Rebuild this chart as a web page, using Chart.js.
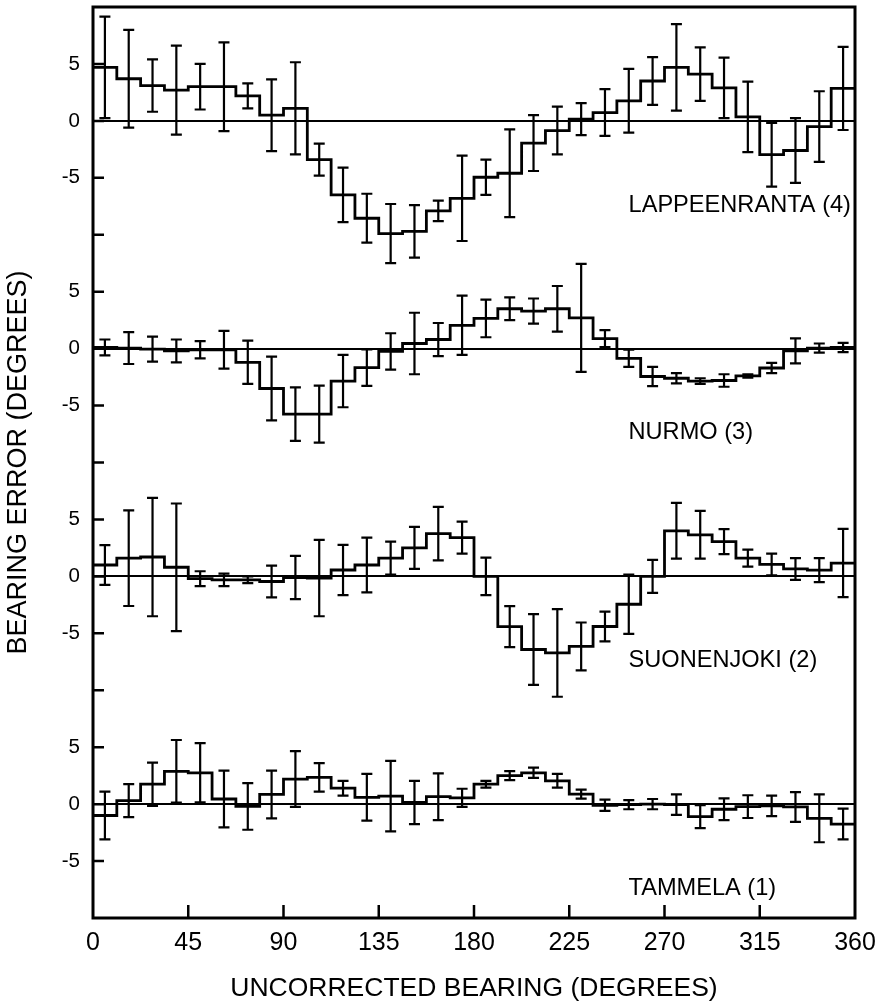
<!DOCTYPE html>
<html>
<head>
<meta charset="utf-8">
<script src="https://cdn.jsdelivr.net/npm/chart.js@4.4.1/dist/chart.umd.min.js"></script>
<style>
  body { margin: 0; background: #fff; }
</style>
</head>
<body>
<canvas id="chart" width="877" height="1006"></canvas>
<script>
'use strict';

// 32 bearing bins of 11.25 degrees
const BIN = 11.25;
const bearings = Array.from({ length: 32 }, (_, i) => (i + 0.5) * BIN);
const xTicks = [0, 45, 90, 135, 180, 225, 270, 315, 360];

// each station is drawn on the same axis, shifted by 20 degrees
const stationNames = ['LAPPEENRANTA (4)', 'NURMO (3)', 'SUONENJOKI (2)', 'TAMMELA (1)'];
const stationOffsets = [60, 40, 20, 0];

const lappValues = [4.7, 3.7, 3.1, 2.7, 3.0, 3.0, 2.2, 0.5, 1.1, -3.4, -6.5, -8.55, -9.9, -9.7, -7.9, -6.8,
  -4.95, -4.6, -1.95, -0.85, 0.15, 0.73, 1.76, 3.5, 4.7, 4.1, 2.9, 0.35, -2.97, -2.6, -0.5, 2.85];
const lappErrors = [4.45, 4.3, 2.3, 3.9, 2.0, 3.9, 1.1, 3.15, 4.05, 1.4, 2.4, 2.15, 2.6, 2.3, 0.9, 3.75,
  1.55, 3.85, 2.45, 2.1, 1.4, 2.05, 2.8, 2.1, 3.8, 2.35, 2.65, 3.1, 2.8, 2.85, 3.1, 3.65];

const nurmoValues = [0.1, 0.05, -0.05, -0.2, -0.1, -0.1, -1.2, -3.5, -5.75, -5.75, -2.85, -1.67, -0.25, 0.45, 0.8, 2.05,
  2.65, 3.5, 3.3, 3.5, 2.7, 0.88, -0.85, -2.45, -2.6, -2.85, -2.8, -2.4, -1.7, -0.2, 0.05, 0.1];
const nurmoErrors = [0.7, 1.4, 1.1, 1.0, 0.75, 1.65, 1.9, 2.8, 2.35, 2.5, 2.3, 1.6, 1.6, 2.7, 1.45, 2.6,
  1.65, 1.0, 1.1, 2.0, 4.75, 0.75, 0.75, 0.85, 0.45, 0.25, 0.55, 0.15, 0.45, 1.1, 0.4, 0.4];

const suonValues = [1.0, 1.6, 1.7, 0.8, -0.2, -0.3, -0.3, -0.45, -0.1, -0.15, 0.56, 1.0, 1.6, 2.5, 3.75, 3.4,
  0.0, -4.42, -6.42, -6.72, -6.15, -4.4, -2.45, 0.0, 4.0, 3.65, 3.05, 1.6, 1.05, 0.65, 0.55, 1.17];
const suonErrors = [1.75, 4.2, 5.2, 5.6, 0.65, 0.55, 0.3, 1.4, 1.9, 3.35, 2.2, 2.4, 1.45, 1.85, 2.35, 1.4,
  1.65, 1.8, 3.1, 3.85, 2.1, 1.3, 2.6, 1.45, 2.45, 2.1, 1.1, 0.75, 0.95, 0.95, 1.05, 3.0];

const tammValues = [-1.0, 0.3, 1.75, 2.88, 2.75, 0.45, -0.2, 0.85, 2.2, 2.35, 1.4, 0.6, 0.7, 0.15, 0.65, 0.55,
  1.75, 2.5, 2.75, 2.05, 0.88, -0.1, -0.05, 0.0, -0.05, -1.1, -0.45, -0.22, -0.15, -0.25, -1.25, -1.75];
const tammErrors = [2.1, 1.45, 1.9, 2.75, 2.6, 2.5, 2.05, 2.1, 2.45, 1.25, 0.65, 2.05, 3.1, 1.9, 2.05, 0.8,
  0.3, 0.4, 0.45, 0.6, 0.4, 0.5, 0.4, 0.45, 0.9, 1.0, 0.95, 1.0, 0.9, 1.3, 2.1, 1.35];

const stationValues = [lappValues, nurmoValues, suonValues, tammValues];
const stationErrors = [lappErrors, nurmoErrors, suonErrors, tammErrors];

const FONT = '"Liberation Sans", Arial, Helvetica, sans-serif';
Chart.defaults.font.family = FONT;
Chart.defaults.color = '#000';

// histogram style: each bin is a flat segment from its left edge to its right edge
function stepPoints(values, offset) {
  let pts = [];
  values.forEach((v, i) => {
    pts.push({ x: bearings[i] - BIN / 2, y: offset + v });
    pts.push({ x: bearings[i] + BIN / 2, y: offset + v });
  });
  return pts;
}

let datasets = stationNames.map((name, k) => ({
  label: name,
  data: stepPoints(stationValues[k], stationOffsets[k]),
  borderColor: '#000',
  borderWidth: 2.8,
  pointRadius: 0,
  tension: 0,
  fill: false
}));

// error bars, inside ticks, frame and station names
const extras = {
  id: 'extras',
  afterDatasetsDraw(chart) {
    const { ctx, chartArea: a, scales: { x, y } } = chart;
    ctx.save();
    ctx.strokeStyle = '#000';
    ctx.fillStyle = '#000';

    ctx.lineWidth = 2.2;
    stationValues.forEach((vals, k) => {
      const off = stationOffsets[k];
      const errs = stationErrors[k];
      vals.forEach((v, i) => {
        const px = x.getPixelForValue(bearings[i]);
        const top = y.getPixelForValue(off + v + errs[i]);
        const bot = y.getPixelForValue(off + v - errs[i]);
        ctx.beginPath();
        ctx.moveTo(px, top); ctx.lineTo(px, bot);
        ctx.moveTo(px - 5.5, top); ctx.lineTo(px + 5.5, top);
        ctx.moveTo(px - 5.5, bot); ctx.lineTo(px + 5.5, bot);
        ctx.stroke();
      });
    });

    ctx.lineWidth = 2.5;
    ctx.beginPath();
    y.ticks.forEach(t => {
      if (t.value <= y.min || t.value >= y.max) return;
      const py = y.getPixelForValue(t.value);
      ctx.moveTo(a.left, py); ctx.lineTo(a.left + 11, py);
    });
    x.ticks.forEach(t => {
      if (t.value <= x.min || t.value >= x.max) return;
      const px = x.getPixelForValue(t.value);
      ctx.moveTo(px, a.bottom); ctx.lineTo(px, a.bottom - 13);
    });
    ctx.stroke();

    ctx.lineWidth = 3;
    ctx.strokeRect(a.left, a.top, a.width, a.height);

    ctx.font = '23.6px ' + FONT;
    ctx.textBaseline = 'middle';
    ctx.textAlign = 'left';
    stationNames.forEach((name, k) => {
      ctx.fillText(name, x.getPixelForValue(253), y.getPixelForValue(stationOffsets[k] - 7.4));
    });
    ctx.restore();
  }
};

new Chart(document.getElementById('chart'), {
  type: 'line',
  data: { datasets: datasets },
  plugins: [extras],
  options: {
    responsive: false,
    animation: false,
    layout: { padding: { top: 7, right: 22, bottom: 0, left: 0 } },
    plugins: { legend: { display: false }, tooltip: { enabled: false } },
    scales: {
      x: {
        type: 'linear',
        min: 0,
        max: 360,
        afterBuildTicks: (scale) => { scale.ticks = xTicks.map(v => ({ value: v })); },
        ticks: { font: { size: 25 }, padding: 10, maxRotation: 0, autoSkip: false },
        grid: { display: false, drawTicks: false },
        border: { display: false },
        title: { display: true, text: 'UNCORRECTED BEARING (DEGREES)', font: { size: 26.5 }, padding: { top: 0, bottom: 1 } },
        afterFit: (scale) => { scale.height = 88; scale.paddingLeft = 0; scale.paddingRight = 0; }
      },
      y: {
        min: -10,
        max: 70,
        ticks: {
          stepSize: 5,
          autoSkip: false,
          font: { size: 20.5 },
          padding: 13,
          callback: (v) => {
            const r = ((v % 20) + 20) % 20;
            if (r === 0) return '0';
            if (r === 5) return '5';
            if (r === 15) return '-5';
            return '';
          }
        },
        grid: {
          drawTicks: false,
          lineWidth: 2,
          color: (c) => (c.tick && c.tick.value % 20 === 0 && c.tick.value > -10 && c.tick.value < 70) ? '#000' : 'rgba(0,0,0,0)'
        },
        border: { display: false },
        title: { display: true, text: 'BEARING ERROR (DEGREES)', font: { size: 27 }, padding: { top: 2, bottom: 0 } },
        afterFit: (scale) => { scale.width = 93; scale.paddingTop = 0; scale.paddingBottom = 0; }
      }
    }
  }
});
</script>
</body>
</html>
